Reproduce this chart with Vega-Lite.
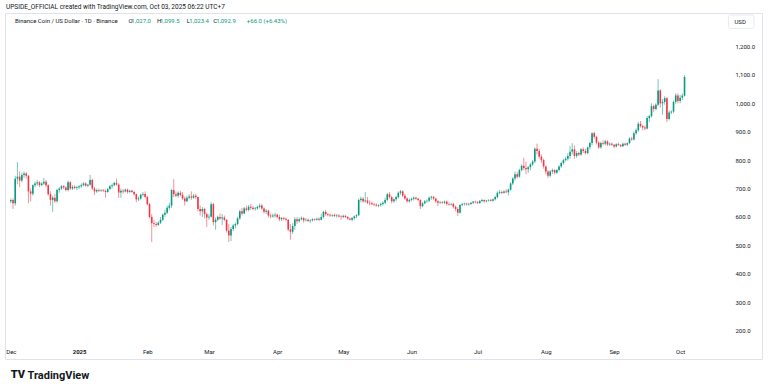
{
  "$schema": "https://vega.github.io/schema/vega-lite/v6.json",
  "width": 757,
  "height": 346,
  "autosize": {"type": "none"},
  "padding": {"left": 5, "top": 13, "right": 6, "bottom": 31},
  "background": "white",
  "config": {"view": {"stroke": "#e0e3eb", "strokeWidth": 1, "fill": "white"}, "font": "Roboto"},
  "title": {"text": "UPSIDE_OFFICIAL created with TradingView.com, Oct 03, 2025 06:22 UTC+7", "anchor": "start", "fontSize": 6.5, "fontWeight": "normal", "color": "#131722", "offset": 3, "dx": 1},
  "data": {"values": [
    {"d":"2024-12-01","o":655,"h":665,"l":648,"c":660},
    {"d":"2024-12-02","o":660,"h":666,"l":628,"c":648},
    {"d":"2024-12-03","o":648,"h":745,"l":640,"c":735},
    {"d":"2024-12-04","o":735,"h":793,"l":715,"c":742},
    {"d":"2024-12-05","o":742,"h":760,"l":705,"c":728},
    {"d":"2024-12-06","o":728,"h":756,"l":722,"c":748},
    {"d":"2024-12-07","o":748,"h":760,"l":738,"c":753},
    {"d":"2024-12-08","o":753,"h":758,"l":735,"c":745},
    {"d":"2024-12-09","o":745,"h":748,"l":648,"c":690},
    {"d":"2024-12-10","o":690,"h":700,"l":655,"c":682},
    {"d":"2024-12-11","o":682,"h":715,"l":675,"c":712},
    {"d":"2024-12-12","o":712,"h":725,"l":705,"c":718},
    {"d":"2024-12-13","o":718,"h":730,"l":710,"c":722},
    {"d":"2024-12-14","o":722,"h":726,"l":705,"c":712},
    {"d":"2024-12-15","o":712,"h":722,"l":708,"c":718},
    {"d":"2024-12-16","o":718,"h":738,"l":712,"c":724},
    {"d":"2024-12-17","o":724,"h":730,"l":705,"c":712},
    {"d":"2024-12-18","o":712,"h":715,"l":675,"c":680},
    {"d":"2024-12-19","o":680,"h":690,"l":640,"c":660},
    {"d":"2024-12-20","o":660,"h":675,"l":618,"c":668},
    {"d":"2024-12-21","o":668,"h":680,"l":650,"c":655},
    {"d":"2024-12-22","o":655,"h":700,"l":650,"c":695},
    {"d":"2024-12-23","o":695,"h":705,"l":685,"c":700},
    {"d":"2024-12-24","o":700,"h":712,"l":695,"c":708},
    {"d":"2024-12-25","o":708,"h":712,"l":698,"c":704},
    {"d":"2024-12-26","o":704,"h":708,"l":690,"c":695},
    {"d":"2024-12-27","o":695,"h":728,"l":690,"c":722},
    {"d":"2024-12-28","o":722,"h":726,"l":695,"c":700},
    {"d":"2024-12-29","o":700,"h":712,"l":695,"c":706},
    {"d":"2024-12-30","o":706,"h":712,"l":698,"c":702},
    {"d":"2024-12-31","o":702,"h":710,"l":695,"c":705},
    {"d":"2025-01-01","o":705,"h":712,"l":698,"c":708},
    {"d":"2025-01-02","o":708,"h":718,"l":702,"c":712},
    {"d":"2025-01-03","o":712,"h":722,"l":708,"c":718},
    {"d":"2025-01-04","o":718,"h":722,"l":706,"c":710},
    {"d":"2025-01-05","o":710,"h":716,"l":705,"c":713},
    {"d":"2025-01-06","o":713,"h":748,"l":710,"c":730},
    {"d":"2025-01-07","o":730,"h":735,"l":695,"c":700},
    {"d":"2025-01-08","o":700,"h":706,"l":677,"c":690},
    {"d":"2025-01-09","o":690,"h":700,"l":685,"c":695},
    {"d":"2025-01-10","o":695,"h":700,"l":688,"c":692},
    {"d":"2025-01-11","o":692,"h":698,"l":688,"c":694},
    {"d":"2025-01-12","o":694,"h":698,"l":688,"c":692},
    {"d":"2025-01-13","o":692,"h":697,"l":668,"c":688},
    {"d":"2025-01-14","o":688,"h":702,"l":685,"c":698},
    {"d":"2025-01-15","o":698,"h":712,"l":695,"c":708},
    {"d":"2025-01-16","o":708,"h":718,"l":700,"c":712},
    {"d":"2025-01-17","o":712,"h":724,"l":708,"c":720},
    {"d":"2025-01-18","o":720,"h":735,"l":710,"c":714},
    {"d":"2025-01-19","o":714,"h":718,"l":667,"c":686},
    {"d":"2025-01-20","o":686,"h":700,"l":668,"c":692},
    {"d":"2025-01-21","o":692,"h":698,"l":682,"c":690},
    {"d":"2025-01-22","o":690,"h":700,"l":686,"c":696},
    {"d":"2025-01-23","o":696,"h":700,"l":682,"c":688},
    {"d":"2025-01-24","o":688,"h":696,"l":684,"c":692},
    {"d":"2025-01-25","o":692,"h":696,"l":685,"c":688},
    {"d":"2025-01-26","o":688,"h":692,"l":675,"c":680},
    {"d":"2025-01-27","o":680,"h":682,"l":652,"c":662},
    {"d":"2025-01-28","o":662,"h":672,"l":656,"c":665},
    {"d":"2025-01-29","o":665,"h":682,"l":660,"c":678},
    {"d":"2025-01-30","o":678,"h":688,"l":672,"c":681},
    {"d":"2025-01-31","o":681,"h":690,"l":665,"c":670},
    {"d":"2025-02-01","o":670,"h":674,"l":640,"c":645},
    {"d":"2025-02-02","o":645,"h":650,"l":595,"c":600},
    {"d":"2025-02-03","o":600,"h":610,"l":512,"c":578},
    {"d":"2025-02-04","o":578,"h":590,"l":565,"c":575},
    {"d":"2025-02-05","o":575,"h":582,"l":565,"c":572},
    {"d":"2025-02-06","o":572,"h":585,"l":568,"c":580},
    {"d":"2025-02-07","o":580,"h":600,"l":575,"c":590},
    {"d":"2025-02-08","o":590,"h":612,"l":585,"c":608},
    {"d":"2025-02-09","o":608,"h":625,"l":600,"c":615},
    {"d":"2025-02-10","o":615,"h":640,"l":610,"c":632},
    {"d":"2025-02-11","o":632,"h":650,"l":625,"c":640},
    {"d":"2025-02-12","o":640,"h":698,"l":632,"c":695},
    {"d":"2025-02-13","o":695,"h":733,"l":670,"c":680},
    {"d":"2025-02-14","o":680,"h":690,"l":670,"c":675},
    {"d":"2025-02-15","o":675,"h":690,"l":668,"c":685},
    {"d":"2025-02-16","o":685,"h":692,"l":672,"c":678},
    {"d":"2025-02-17","o":678,"h":688,"l":660,"c":665},
    {"d":"2025-02-18","o":665,"h":672,"l":640,"c":655},
    {"d":"2025-02-19","o":655,"h":675,"l":652,"c":668},
    {"d":"2025-02-20","o":668,"h":680,"l":662,"c":672},
    {"d":"2025-02-21","o":672,"h":690,"l":660,"c":668},
    {"d":"2025-02-22","o":668,"h":680,"l":664,"c":675},
    {"d":"2025-02-23","o":675,"h":682,"l":664,"c":670},
    {"d":"2025-02-24","o":670,"h":672,"l":620,"c":628},
    {"d":"2025-02-25","o":628,"h":640,"l":605,"c":620},
    {"d":"2025-02-26","o":620,"h":635,"l":600,"c":628},
    {"d":"2025-02-27","o":628,"h":632,"l":595,"c":610},
    {"d":"2025-02-28","o":610,"h":615,"l":565,"c":598},
    {"d":"2025-03-01","o":598,"h":610,"l":590,"c":601},
    {"d":"2025-03-02","o":601,"h":652,"l":598,"c":645},
    {"d":"2025-03-03","o":645,"h":650,"l":570,"c":582},
    {"d":"2025-03-04","o":582,"h":598,"l":555,"c":590},
    {"d":"2025-03-05","o":590,"h":605,"l":585,"c":600},
    {"d":"2025-03-06","o":600,"h":612,"l":590,"c":595},
    {"d":"2025-03-07","o":595,"h":610,"l":572,"c":598},
    {"d":"2025-03-08","o":598,"h":605,"l":585,"c":590},
    {"d":"2025-03-09","o":590,"h":592,"l":545,"c":552},
    {"d":"2025-03-10","o":552,"h":575,"l":512,"c":535},
    {"d":"2025-03-11","o":535,"h":565,"l":515,"c":558},
    {"d":"2025-03-12","o":558,"h":575,"l":550,"c":570},
    {"d":"2025-03-13","o":570,"h":580,"l":560,"c":575},
    {"d":"2025-03-14","o":575,"h":600,"l":570,"c":595},
    {"d":"2025-03-15","o":595,"h":625,"l":590,"c":620},
    {"d":"2025-03-16","o":620,"h":632,"l":605,"c":612},
    {"d":"2025-03-17","o":612,"h":635,"l":610,"c":630},
    {"d":"2025-03-18","o":630,"h":640,"l":620,"c":625},
    {"d":"2025-03-19","o":625,"h":642,"l":620,"c":636},
    {"d":"2025-03-20","o":636,"h":645,"l":625,"c":632},
    {"d":"2025-03-21","o":632,"h":638,"l":624,"c":628},
    {"d":"2025-03-22","o":628,"h":635,"l":622,"c":630},
    {"d":"2025-03-23","o":630,"h":640,"l":625,"c":635},
    {"d":"2025-03-24","o":635,"h":648,"l":630,"c":640},
    {"d":"2025-03-25","o":640,"h":645,"l":625,"c":630},
    {"d":"2025-03-26","o":630,"h":634,"l":612,"c":618},
    {"d":"2025-03-27","o":618,"h":628,"l":610,"c":622},
    {"d":"2025-03-28","o":622,"h":626,"l":598,"c":605},
    {"d":"2025-03-29","o":605,"h":612,"l":595,"c":602},
    {"d":"2025-03-30","o":602,"h":612,"l":598,"c":605},
    {"d":"2025-03-31","o":605,"h":615,"l":598,"c":608},
    {"d":"2025-04-01","o":608,"h":612,"l":595,"c":600},
    {"d":"2025-04-02","o":600,"h":608,"l":585,"c":592},
    {"d":"2025-04-03","o":592,"h":600,"l":585,"c":596},
    {"d":"2025-04-04","o":596,"h":600,"l":588,"c":594},
    {"d":"2025-04-05","o":594,"h":598,"l":585,"c":590},
    {"d":"2025-04-06","o":590,"h":592,"l":550,"c":556},
    {"d":"2025-04-07","o":556,"h":575,"l":520,"c":548},
    {"d":"2025-04-08","o":548,"h":578,"l":540,"c":568},
    {"d":"2025-04-09","o":568,"h":600,"l":555,"c":592},
    {"d":"2025-04-10","o":592,"h":600,"l":575,"c":585},
    {"d":"2025-04-11","o":585,"h":598,"l":580,"c":592},
    {"d":"2025-04-12","o":592,"h":602,"l":588,"c":596},
    {"d":"2025-04-13","o":596,"h":600,"l":580,"c":588},
    {"d":"2025-04-14","o":588,"h":596,"l":584,"c":590},
    {"d":"2025-04-15","o":590,"h":594,"l":582,"c":586},
    {"d":"2025-04-16","o":586,"h":592,"l":578,"c":588},
    {"d":"2025-04-17","o":588,"h":596,"l":584,"c":592},
    {"d":"2025-04-18","o":592,"h":595,"l":586,"c":590},
    {"d":"2025-04-19","o":590,"h":598,"l":588,"c":594},
    {"d":"2025-04-20","o":594,"h":598,"l":586,"c":590},
    {"d":"2025-04-21","o":590,"h":612,"l":588,"c":600},
    {"d":"2025-04-22","o":600,"h":622,"l":595,"c":618},
    {"d":"2025-04-23","o":618,"h":625,"l":605,"c":610},
    {"d":"2025-04-24","o":610,"h":615,"l":602,"c":608},
    {"d":"2025-04-25","o":608,"h":612,"l":600,"c":605},
    {"d":"2025-04-26","o":605,"h":610,"l":600,"c":607},
    {"d":"2025-04-27","o":607,"h":612,"l":600,"c":603},
    {"d":"2025-04-28","o":603,"h":610,"l":598,"c":605},
    {"d":"2025-04-29","o":605,"h":610,"l":598,"c":602},
    {"d":"2025-04-30","o":602,"h":606,"l":590,"c":600},
    {"d":"2025-05-01","o":600,"h":608,"l":596,"c":604},
    {"d":"2025-05-02","o":604,"h":606,"l":596,"c":600},
    {"d":"2025-05-03","o":600,"h":603,"l":590,"c":594},
    {"d":"2025-05-04","o":594,"h":598,"l":588,"c":590},
    {"d":"2025-05-05","o":590,"h":600,"l":585,"c":596},
    {"d":"2025-05-06","o":596,"h":605,"l":590,"c":602},
    {"d":"2025-05-07","o":602,"h":610,"l":596,"c":606},
    {"d":"2025-05-08","o":606,"h":665,"l":604,"c":660},
    {"d":"2025-05-09","o":660,"h":672,"l":652,"c":664},
    {"d":"2025-05-10","o":664,"h":670,"l":650,"c":655},
    {"d":"2025-05-11","o":655,"h":688,"l":650,"c":658},
    {"d":"2025-05-12","o":658,"h":670,"l":645,"c":650},
    {"d":"2025-05-13","o":650,"h":658,"l":640,"c":648},
    {"d":"2025-05-14","o":648,"h":654,"l":642,"c":645},
    {"d":"2025-05-15","o":645,"h":650,"l":638,"c":643},
    {"d":"2025-05-16","o":643,"h":648,"l":636,"c":640},
    {"d":"2025-05-17","o":640,"h":645,"l":634,"c":642},
    {"d":"2025-05-18","o":642,"h":650,"l":636,"c":646},
    {"d":"2025-05-19","o":646,"h":655,"l":640,"c":650},
    {"d":"2025-05-20","o":650,"h":668,"l":645,"c":660},
    {"d":"2025-05-21","o":660,"h":685,"l":655,"c":680},
    {"d":"2025-05-22","o":680,"h":688,"l":665,"c":670},
    {"d":"2025-05-23","o":670,"h":675,"l":648,"c":655},
    {"d":"2025-05-24","o":655,"h":665,"l":650,"c":662},
    {"d":"2025-05-25","o":662,"h":675,"l":655,"c":670},
    {"d":"2025-05-26","o":670,"h":690,"l":665,"c":685},
    {"d":"2025-05-27","o":685,"h":695,"l":678,"c":690},
    {"d":"2025-05-28","o":690,"h":694,"l":670,"c":675},
    {"d":"2025-05-29","o":675,"h":682,"l":660,"c":665},
    {"d":"2025-05-30","o":665,"h":670,"l":650,"c":655},
    {"d":"2025-05-31","o":655,"h":665,"l":650,"c":660},
    {"d":"2025-06-01","o":660,"h":668,"l":655,"c":664},
    {"d":"2025-06-02","o":664,"h":672,"l":658,"c":668},
    {"d":"2025-06-03","o":668,"h":672,"l":660,"c":664},
    {"d":"2025-06-04","o":664,"h":668,"l":655,"c":660},
    {"d":"2025-06-05","o":660,"h":662,"l":628,"c":638},
    {"d":"2025-06-06","o":638,"h":652,"l":634,"c":648},
    {"d":"2025-06-07","o":648,"h":660,"l":645,"c":655},
    {"d":"2025-06-08","o":655,"h":662,"l":650,"c":657},
    {"d":"2025-06-09","o":657,"h":672,"l":652,"c":668},
    {"d":"2025-06-10","o":668,"h":675,"l":660,"c":671},
    {"d":"2025-06-11","o":671,"h":674,"l":660,"c":665},
    {"d":"2025-06-12","o":665,"h":668,"l":650,"c":655},
    {"d":"2025-06-13","o":655,"h":660,"l":638,"c":650},
    {"d":"2025-06-14","o":650,"h":656,"l":645,"c":652},
    {"d":"2025-06-15","o":652,"h":656,"l":646,"c":650},
    {"d":"2025-06-16","o":650,"h":658,"l":645,"c":654},
    {"d":"2025-06-17","o":654,"h":658,"l":640,"c":646},
    {"d":"2025-06-18","o":646,"h":652,"l":640,"c":644},
    {"d":"2025-06-19","o":644,"h":650,"l":640,"c":646},
    {"d":"2025-06-20","o":646,"h":650,"l":630,"c":636},
    {"d":"2025-06-21","o":636,"h":640,"l":620,"c":628},
    {"d":"2025-06-22","o":628,"h":634,"l":603,"c":615},
    {"d":"2025-06-23","o":615,"h":645,"l":612,"c":642},
    {"d":"2025-06-24","o":642,"h":650,"l":638,"c":645},
    {"d":"2025-06-25","o":645,"h":650,"l":640,"c":647},
    {"d":"2025-06-26","o":647,"h":650,"l":640,"c":644},
    {"d":"2025-06-27","o":644,"h":650,"l":640,"c":646},
    {"d":"2025-06-28","o":646,"h":652,"l":642,"c":650},
    {"d":"2025-06-29","o":650,"h":656,"l":646,"c":654},
    {"d":"2025-06-30","o":654,"h":658,"l":648,"c":652},
    {"d":"2025-07-01","o":652,"h":656,"l":645,"c":649},
    {"d":"2025-07-02","o":649,"h":660,"l":646,"c":656},
    {"d":"2025-07-03","o":656,"h":664,"l":652,"c":660},
    {"d":"2025-07-04","o":660,"h":662,"l":650,"c":655},
    {"d":"2025-07-05","o":655,"h":660,"l":652,"c":658},
    {"d":"2025-07-06","o":658,"h":662,"l":654,"c":660},
    {"d":"2025-07-07","o":660,"h":664,"l":655,"c":657},
    {"d":"2025-07-08","o":657,"h":665,"l":654,"c":662},
    {"d":"2025-07-09","o":662,"h":675,"l":658,"c":670},
    {"d":"2025-07-10","o":670,"h":690,"l":665,"c":685},
    {"d":"2025-07-11","o":685,"h":695,"l":680,"c":688},
    {"d":"2025-07-12","o":688,"h":692,"l":680,"c":685},
    {"d":"2025-07-13","o":685,"h":694,"l":682,"c":690},
    {"d":"2025-07-14","o":690,"h":698,"l":684,"c":687},
    {"d":"2025-07-15","o":687,"h":700,"l":676,"c":696},
    {"d":"2025-07-16","o":696,"h":722,"l":692,"c":718},
    {"d":"2025-07-17","o":718,"h":740,"l":712,"c":735},
    {"d":"2025-07-18","o":735,"h":760,"l":728,"c":750},
    {"d":"2025-07-19","o":750,"h":758,"l":735,"c":742},
    {"d":"2025-07-20","o":742,"h":770,"l":738,"c":765},
    {"d":"2025-07-21","o":765,"h":785,"l":760,"c":780},
    {"d":"2025-07-22","o":780,"h":808,"l":765,"c":772},
    {"d":"2025-07-23","o":772,"h":795,"l":750,"c":768},
    {"d":"2025-07-24","o":768,"h":780,"l":755,"c":775},
    {"d":"2025-07-25","o":775,"h":790,"l":765,"c":785},
    {"d":"2025-07-26","o":785,"h":800,"l":780,"c":795},
    {"d":"2025-07-27","o":795,"h":845,"l":790,"c":840},
    {"d":"2025-07-28","o":840,"h":858,"l":820,"c":832},
    {"d":"2025-07-29","o":832,"h":840,"l":805,"c":812},
    {"d":"2025-07-30","o":812,"h":820,"l":790,"c":800},
    {"d":"2025-07-31","o":800,"h":805,"l":770,"c":778},
    {"d":"2025-08-01","o":778,"h":782,"l":750,"c":760},
    {"d":"2025-08-02","o":760,"h":765,"l":737,"c":745},
    {"d":"2025-08-03","o":745,"h":765,"l":740,"c":760},
    {"d":"2025-08-04","o":760,"h":770,"l":752,"c":765},
    {"d":"2025-08-05","o":765,"h":768,"l":750,"c":756},
    {"d":"2025-08-06","o":756,"h":768,"l":752,"c":765},
    {"d":"2025-08-07","o":765,"h":782,"l":760,"c":778},
    {"d":"2025-08-08","o":778,"h":795,"l":772,"c":790},
    {"d":"2025-08-09","o":790,"h":805,"l":785,"c":800},
    {"d":"2025-08-10","o":800,"h":812,"l":795,"c":805},
    {"d":"2025-08-11","o":805,"h":825,"l":798,"c":815},
    {"d":"2025-08-12","o":815,"h":850,"l":805,"c":830},
    {"d":"2025-08-13","o":830,"h":860,"l":820,"c":838},
    {"d":"2025-08-14","o":838,"h":852,"l":805,"c":815},
    {"d":"2025-08-15","o":815,"h":832,"l":808,"c":825},
    {"d":"2025-08-16","o":825,"h":830,"l":815,"c":820},
    {"d":"2025-08-17","o":820,"h":842,"l":815,"c":838},
    {"d":"2025-08-18","o":838,"h":845,"l":825,"c":832},
    {"d":"2025-08-19","o":832,"h":840,"l":820,"c":825},
    {"d":"2025-08-20","o":825,"h":848,"l":820,"c":845},
    {"d":"2025-08-21","o":845,"h":865,"l":838,"c":860},
    {"d":"2025-08-22","o":860,"h":898,"l":852,"c":895},
    {"d":"2025-08-23","o":895,"h":900,"l":875,"c":882},
    {"d":"2025-08-24","o":882,"h":886,"l":855,"c":862},
    {"d":"2025-08-25","o":862,"h":866,"l":840,"c":845},
    {"d":"2025-08-26","o":845,"h":865,"l":840,"c":860},
    {"d":"2025-08-27","o":860,"h":870,"l":852,"c":858},
    {"d":"2025-08-28","o":858,"h":872,"l":852,"c":866},
    {"d":"2025-08-29","o":866,"h":870,"l":850,"c":855},
    {"d":"2025-08-30","o":855,"h":862,"l":850,"c":858},
    {"d":"2025-08-31","o":858,"h":862,"l":850,"c":854},
    {"d":"2025-09-01","o":854,"h":856,"l":842,"c":848},
    {"d":"2025-09-02","o":848,"h":860,"l":845,"c":856},
    {"d":"2025-09-03","o":856,"h":862,"l":850,"c":853},
    {"d":"2025-09-04","o":853,"h":857,"l":845,"c":849},
    {"d":"2025-09-05","o":849,"h":862,"l":846,"c":858},
    {"d":"2025-09-06","o":858,"h":862,"l":850,"c":854},
    {"d":"2025-09-07","o":854,"h":862,"l":850,"c":860},
    {"d":"2025-09-08","o":860,"h":880,"l":856,"c":876},
    {"d":"2025-09-09","o":876,"h":882,"l":868,"c":873},
    {"d":"2025-09-10","o":873,"h":900,"l":870,"c":895},
    {"d":"2025-09-11","o":895,"h":912,"l":890,"c":905},
    {"d":"2025-09-12","o":905,"h":935,"l":900,"c":928},
    {"d":"2025-09-13","o":928,"h":938,"l":915,"c":920},
    {"d":"2025-09-14","o":920,"h":925,"l":905,"c":915},
    {"d":"2025-09-15","o":915,"h":922,"l":905,"c":911},
    {"d":"2025-09-16","o":911,"h":955,"l":908,"c":948},
    {"d":"2025-09-17","o":948,"h":960,"l":935,"c":955},
    {"d":"2025-09-18","o":955,"h":1000,"l":950,"c":990},
    {"d":"2025-09-19","o":990,"h":995,"l":970,"c":980},
    {"d":"2025-09-20","o":980,"h":1000,"l":975,"c":995},
    {"d":"2025-09-21","o":995,"h":1085,"l":990,"c":1045},
    {"d":"2025-09-22","o":1045,"h":1050,"l":985,"c":1000},
    {"d":"2025-09-23","o":1000,"h":1015,"l":960,"c":1005},
    {"d":"2025-09-24","o":1005,"h":1025,"l":995,"c":1018},
    {"d":"2025-09-25","o":1018,"h":1022,"l":934,"c":945},
    {"d":"2025-09-26","o":945,"h":975,"l":940,"c":968},
    {"d":"2025-09-27","o":968,"h":975,"l":962,"c":971},
    {"d":"2025-09-28","o":971,"h":1010,"l":965,"c":1005},
    {"d":"2025-09-29","o":1005,"h":1035,"l":998,"c":1028},
    {"d":"2025-09-30","o":1028,"h":1035,"l":1000,"c":1008},
    {"d":"2025-10-01","o":1008,"h":1030,"l":1000,"c":1020},
    {"d":"2025-10-02","o":1020,"h":1035,"l":1012,"c":1027},
    {"d":"2025-10-03","o":1027,"h":1099.5,"l":1023.4,"c":1092.9}
  ]},
  "encoding": {
    "x": {"type": "temporal",
      "scale": {"type": "utc", "domain": [{"year": 2024, "month": 11, "date": 30, "hours": 15, "utc": true}, {"year": 2025, "month": 11, "date": 4, "hours": 22, "utc": true}]},
      "axis": {"orient": "bottom", "offset": -16, "domain": false, "ticks": false, "grid": false,
        "values": [{"year":2024,"month":12,"date":1,"utc":true},{"year":2025,"month":1,"date":1,"utc":true},{"year":2025,"month":2,"date":1,"utc":true},{"year":2025,"month":3,"date":1,"utc":true},{"year":2025,"month":4,"date":1,"utc":true},{"year":2025,"month":5,"date":1,"utc":true},{"year":2025,"month":6,"date":1,"utc":true},{"year":2025,"month":7,"date":1,"utc":true},{"year":2025,"month":8,"date":1,"utc":true},{"year":2025,"month":9,"date":1,"utc":true},{"year":2025,"month":10,"date":1,"utc":true}],
        "labelExpr": "utcmonth(datum.value) == 0 ? utcFormat(datum.value, '%Y') : utcFormat(datum.value, '%b')",
        "labelFontWeight": {"condition": {"test": "utcmonth(datum.value) == 0", "value": "bold"}, "value": "normal"},
        "labelFontSize": 6, "labelColor": "#131722", "labelPadding": 5, "labelFlush": false, "labelOverlap": false,
        "title": "TradingView", "titleFontSize": 11, "titleFontWeight": "bold", "titleColor": "#131722",
        "titleAnchor": "start", "titleAlign": "left", "titleBaseline": "middle", "titleX": 22, "titleY": 32}},
    "y": {"type": "quantitative",
      "scale": {"domain": [100, 1318], "zero": false, "nice": false},
      "axis": {"orient": "right", "offset": -29, "domain": false, "ticks": false, "grid": false,
        "values": [200, 300, 400, 500, 600, 700, 800, 900, 1000, 1100, 1200], "format": ",.1f",
        "labelFontSize": 6, "labelColor": "#131722", "labelPadding": 2, "labelOverlap": false, "labelFlush": false, "title": null}}
  },
  "layer": [
    {"mark": {"type": "rule", "strokeWidth": 1, "opacity": 0.55},
     "encoding": {
       "x": {"field": "d"},
       "y": {"field": "l"},
       "y2": {"field": "h"},
       "color": {"condition": {"test": "datum.c >= datum.o", "value": "#089981"}, "value": "#F23645"}}},
    {"mark": {"type": "bar", "size": 1.6},
     "encoding": {
       "x": {"field": "d"},
       "y": {"field": "o"}, "y2": {"field": "c"},
       "color": {"condition": {"test": "datum.c >= datum.o", "value": "#089981"}, "value": "#F23645"}}},
    {"data": {"values": [{}]}, "mark": {"type": "rect", "fill": "white", "stroke": "#e0e3eb", "strokeWidth": 0.8, "cornerRadius": 2},
     "encoding": {"x": {"datum": {"year":2025,"month":10,"date":22,"hours":22,"utc":true}}, "x2": {"datum": {"year":2025,"month":11,"date":3,"hours":14,"utc":true}}, "y": {"datum": 1311}, "y2": {"datum": 1264}}},
    {"data": {"values": [{}]}, "mark": {"type": "text", "text": "USD", "fontSize": 6, "color": "#131722", "align": "center", "baseline": "middle"},
     "encoding": {"x": {"datum": {"year":2025,"month":10,"date":28,"hours":6,"utc":true}}, "y": {"datum": 1288}}},
    {"data": {"values": [{}]}, "mark": {"type": "text", "text": "Binance Coin / US Dollar · 1D · Binance", "fontSize": 6, "color": "#131722", "align": "left", "baseline": "middle"},
     "encoding": {"x": {"datum": {"year":2024,"month":12,"date":2,"hours":21,"utc":true}}, "y": {"datum": 1289.7}}},
    {"data": {"values": [{}]}, "mark": {"type": "text", "text": "O", "fontSize": 6, "color": "#131722", "align": "left", "baseline": "middle"},
     "encoding": {"x": {"datum": {"year":2025,"month":1,"date":23,"hours":10,"utc":true}}, "y": {"datum": 1289.7}}},
    {"data": {"values": [{}]}, "mark": {"type": "text", "text": "1,027.0", "fontSize": 6, "color": "#089981", "align": "left", "baseline": "middle"},
     "encoding": {"x": {"datum": {"year":2025,"month":1,"date":24,"hours":18,"utc":true}}, "y": {"datum": 1289.7}}},
    {"data": {"values": [{}]}, "mark": {"type": "text", "text": "H", "fontSize": 6, "color": "#131722", "align": "left", "baseline": "middle"},
     "encoding": {"x": {"datum": {"year":2025,"month":2,"date":5,"hours":10,"utc":true}}, "y": {"datum": 1289.7}}},
    {"data": {"values": [{}]}, "mark": {"type": "text", "text": "1,099.5", "fontSize": 6, "color": "#089981", "align": "left", "baseline": "middle"},
     "encoding": {"x": {"datum": {"year":2025,"month":2,"date":6,"hours":18,"utc":true}}, "y": {"datum": 1289.7}}},
    {"data": {"values": [{}]}, "mark": {"type": "text", "text": "L", "fontSize": 6, "color": "#131722", "align": "left", "baseline": "middle"},
     "encoding": {"x": {"datum": {"year":2025,"month":2,"date":18,"hours":21,"utc":true}}, "y": {"datum": 1289.7}}},
    {"data": {"values": [{}]}, "mark": {"type": "text", "text": "1,023.4", "fontSize": 6, "color": "#089981", "align": "left", "baseline": "middle"},
     "encoding": {"x": {"datum": {"year":2025,"month":2,"date":20,"hours":2,"utc":true}}, "y": {"datum": 1289.7}}},
    {"data": {"values": [{}]}, "mark": {"type": "text", "text": "C", "fontSize": 6, "color": "#131722", "align": "left", "baseline": "middle"},
     "encoding": {"x": {"datum": {"year":2025,"month":3,"date":2,"hours":23,"utc":true}}, "y": {"datum": 1289.7}}},
    {"data": {"values": [{}]}, "mark": {"type": "text", "text": "1,092.9", "fontSize": 6, "color": "#089981", "align": "left", "baseline": "middle"},
     "encoding": {"x": {"datum": {"year":2025,"month":3,"date":4,"hours":6,"utc":true}}, "y": {"datum": 1289.7}}},
    {"data": {"values": [{}]}, "mark": {"type": "text", "text": "+66.0 (+6.43%)", "fontSize": 6, "color": "#089981", "align": "left", "baseline": "middle"},
     "encoding": {"x": {"datum": {"year":2025,"month":3,"date":18,"hours":5,"utc":true}}, "y": {"datum": 1289.7}}},
    {"data": {"values": [{}]}, "mark": {"type": "text", "text": "TV", "fontSize": 11, "fontWeight": 900, "color": "#131722", "align": "center", "baseline": "middle"},
     "encoding": {"x": {"datum": {"year":2024,"month":12,"date":4,"hours":6,"utc":true}}, "y": {"datum": 44}}}
  ]
}
